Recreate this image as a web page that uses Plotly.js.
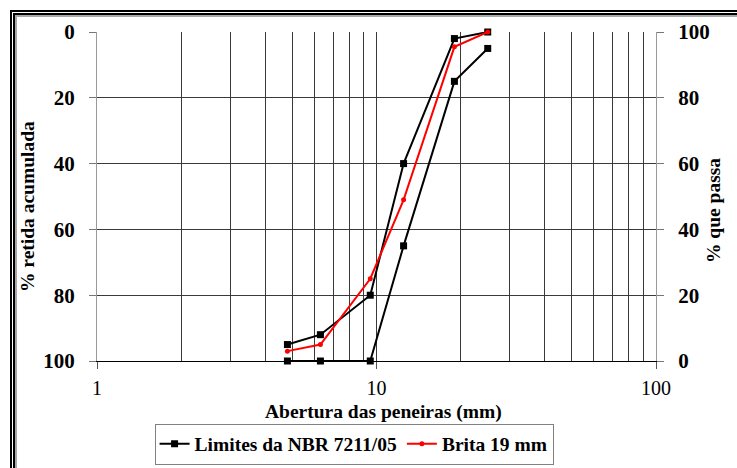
<!DOCTYPE html>
<html>
<head>
<meta charset="utf-8">
<script src="https://cdn.plot.ly/plotly-3.0.1.min.js"></script>
<style>
  html, body { margin: 0; padding: 0; background: #fff; }
  #wrap { position: relative; width: 737px; height: 468px; overflow: hidden; background:#fff; }
  #chart { position: absolute; left: 0; top: 0; width: 737px; height: 468px; }
  .fr { position: absolute; pointer-events: none; border-left-style: solid; border-top-style: solid; width: 900px; height: 700px; }
</style>
</head>
<body>
<div id="wrap">
  <div id="chart"></div>
  <div class="fr" style="left:10px;top:10px;border-width:2px 0 0 2px;border-color:#000;"></div>
  <div class="fr" style="left:13px;top:13px;border-width:2px 0 0 2px;border-color:#000;"></div>
  <div class="fr" style="left:15px;top:15px;border-width:2px 0 0 2px;border-color:#a8a8a8;"></div>
</div>
<script>
// Sieve openings (mm)
const sieves = [4.8, 6.3, 9.5, 12.5, 19, 25];
// NBR 7211/05 limits (% retained, cumulative)
const limitUpper = [95, 92, 80, 40, 2, 0];
const limitLower = [100, 100, 100, 65, 15, 5];
// Brita 19 mm (% retained, cumulative)
const brita19 = [97, 95, 75, 51, 4.5, 0];

const seriesNames = ['Limites da NBR 7211/05', 'Brita 19 mm'];
const xTitle = 'Abertura das peneiras (mm)';
const yLeftTitle = '% retida acumulada';
const yRightTitle = '% que passa';

const FONT = 'Liberation Serif, Times New Roman, serif';
const gridC = '#3a3a3a';
const titleFont = { family: FONT, size: 19.5, weight: 'bold', color: '#000' };

const traces = [
  { x: sieves, y: limitUpper, name: seriesNames[0], legendgroup: 'lim', mode: 'lines+markers', cliponaxis: false,
    line: { color: '#000', width: 2 }, marker: { symbol: 'square', size: 7, color: '#000' } },
  { x: sieves, y: limitLower, name: seriesNames[0], legendgroup: 'lim', showlegend: false, mode: 'lines+markers', cliponaxis: false,
    line: { color: '#000', width: 2 }, marker: { symbol: 'square', size: 7, color: '#000' } },
  { x: sieves, y: brita19, name: seriesNames[1], mode: 'lines+markers', cliponaxis: false,
    line: { color: '#ff0000', width: 2 }, marker: { symbol: 'circle', size: 5, color: '#ff0000' } },
  { x: sieves, y: brita19.map(v => 100 - v), yaxis: 'y2', showlegend: false, hoverinfo: 'skip',
    mode: 'lines', line: { color: 'rgba(0,0,0,0)', width: 0 } }
];

const layout = {
  width: 737, height: 468,
  margin: { l: 97, r: 81, t: 32, b: 107, pad: 0, autoexpand: false },
  paper_bgcolor: 'rgba(0,0,0,0)', plot_bgcolor: '#fff',
  font: { family: FONT, color: '#000', size: 20 },
  showlegend: true,
  legend: {
    orientation: 'h', x: 0.103, xanchor: 'left', y: -0.19, yanchor: 'top',
    bordercolor: '#808080', borderwidth: 1, bgcolor: '#fff',
    font: { family: FONT, size: 19.5, weight: 'bold' }, itemwidth: 30, tracegroupgap: 0
  },
  annotations: [
    { text: xTitle, xref: 'paper', yref: 'paper', x: (383.5 - 97) / 559, y: (361 - 412) / 329,
      xanchor: 'center', yanchor: 'middle', showarrow: false, font: titleFont },
    { text: yLeftTitle, xref: 'paper', yref: 'paper', x: (27 - 97) / 559, y: (361 - 207) / 329,
      xanchor: 'center', yanchor: 'middle', textangle: -90, showarrow: false, font: titleFont },
    { text: yRightTitle, xref: 'paper', yref: 'paper', x: (713 - 97) / 559, y: (361 - 210) / 329,
      xanchor: 'center', yanchor: 'middle', textangle: -90, showarrow: false, font: titleFont }
  ],
  xaxis: {
    type: 'log', range: [0, 2], dtick: 1, automargin: false,
    tickvals: [1, 10, 100], ticktext: ['1', '10', '100'],
    ticks: 'outside', ticklen: 7, tickcolor: '#555', tickwidth: 1,
    tickfont: { family: FONT, size: 20 }, ticklabelstandoff: 2,
    showgrid: true, gridcolor: gridC, gridwidth: 1,
    minor: { dtick: 'D1', showgrid: true, gridcolor: gridC, gridwidth: 1, ticks: '' },
    showline: true, linecolor: '#000', linewidth: 1, mirror: false,
    zeroline: false
  },
  yaxis: {
    range: [100, 0], dtick: 20, tick0: 0, automargin: false,
    ticks: 'outside', ticklen: 7, tickcolor: '#777', tickwidth: 1,
    tickfont: { family: FONT, size: 21, weight: 'bold' }, ticklabelstandoff: 10,
    showgrid: true, gridcolor: gridC, gridwidth: 1,
    showline: true, linecolor: '#999', linewidth: 1,
    zeroline: false
  },
  yaxis2: {
    overlaying: 'y', side: 'right', range: [0, 100], dtick: 20, tick0: 0, automargin: false,
    ticks: 'outside', ticklen: 7, tickcolor: '#777', tickwidth: 1,
    tickfont: { family: FONT, size: 21, weight: 'bold' }, ticklabelstandoff: 10,
    showgrid: false, showline: true, linecolor: '#999', linewidth: 1,
    zeroline: false
  }
};

Plotly.newPlot('chart', traces, layout, { displayModeBar: false, staticPlot: true });
</script>
</body>
</html>
